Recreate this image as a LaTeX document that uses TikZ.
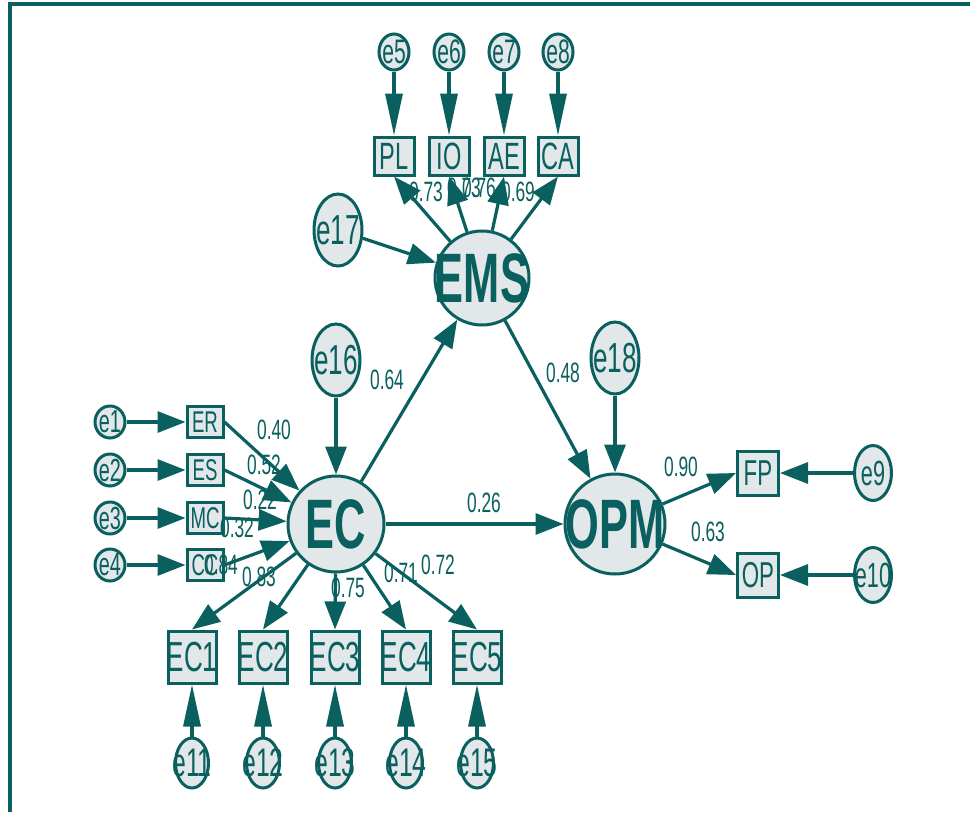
\documentclass[tikz,border=0pt]{standalone}
\usepackage{fontspec}
\setmainfont{Liberation Sans}[FakeStretch=0.62]
\usetikzlibrary{shapes,arrows.meta,positioning}
\definecolor{amos}{HTML}{0A5F5F}
\definecolor{amosfill}{HTML}{E2E7E9}

\begin{document}
\begin{tikzpicture}[x=1pt, y=-1pt,
  lv/.style={circle, draw=amos, line width=3pt, fill=amosfill, minimum size=#1, inner sep=0pt},
  lvtxt/.style={text=amos, inner sep=0pt, font=\fontsize{70}{70}\selectfont\bfseries},
  ov/.style={rectangle, draw=amos, line width=3pt, fill=amosfill, inner sep=0pt},
  ev/.style={ellipse, draw=amos, line width=3pt, fill=amosfill, inner sep=0pt},
  vtxt/.style={text=amos, inner sep=0pt},
  arr/.style={draw=amos, line width=3.2pt, -{Triangle[length=28pt, width=21pt]}},
  longarr/.style={draw=amos, line width=3.2pt, -{Triangle[length=42pt, width=17pt]}},
  coef/.style={text=amos, inner sep=0pt, font=\fontsize{28}{28}\selectfont}
]
  \useasboundingbox (0,0) rectangle (970,812);
  % frame
  \draw[amos, line width=4pt] (10,812) -- (10,4) -- (970,4);

  % latent variables
  \node[lv=94, label={[lvtxt]center:EMS}] (EMS) at (482,278) {};
  \node[lv=96, label={[lvtxt]center:EC}] (EC) at (336,524) {};
  \node[lv=100, label={[lvtxt]center:OPM}] (OPM) at (615,524) {};

  % EMS indicators
  \foreach \n/\x/\e in {PL/394/e5, IO/449/e6, AE/504/e7, CA/558/e8} {
    \node[ov, minimum width=40, minimum height=38, label={[vtxt, font=\fontsize{38}{38}\selectfont]center:\n}] (\n) at (\x,156) {};
    \node[ev, minimum width=30, minimum height=36, label={[vtxt, font=\fontsize{34}{34}\selectfont]center:\e}] (\e) at (\x,52) {};
    \draw[longarr] (\e) -- (\n);
  }

  % EC indicators (left)
  \foreach \n/\y/\e in {ER/422/e1, ES/470/e2, MC/518/e3, CC/565/e4} {
    \node[ov, minimum width=36, minimum height=31, label={[vtxt, font=\fontsize{30}{30}\selectfont]center:\n}] (\n) at (205,\y) {};
    \node[ev, minimum width=30, minimum height=32, label={[vtxt, font=\fontsize{32}{32}\selectfont]center:\e}] (\e) at (110,\y) {};
    \draw[arr] (\e) -- (\n);
    \draw[arr] (\n.east) -- (EC);
  }

  % EC indicators (bottom)
  \foreach \n/\x/\e in {EC1/192/e11, EC2/263/e12, EC3/335/e13, EC4/406/e14, EC5/477/e15} {
    \node[ov, minimum width=48, minimum height=52, label={[vtxt, font=\fontsize{42}{42}\selectfont]center:\n}] (\n) at (\x,657) {};
    \node[ev, minimum width=33, minimum height=50, label={[vtxt, font=\fontsize{40}{40}\selectfont]center:\e}] (\e) at (\x,763) {};
    \draw[arr] (EC) -- (\n.north);
    \draw[longarr] (\e) -- (\n);
  }

  % OPM indicators
  \foreach \n/\y/\e in {FP/473/e9, OP/575/e10} {
    \node[ov, minimum width=41, minimum height=44, label={[vtxt, font=\fontsize{36}{36}\selectfont]center:\n}] (\n) at (758,\y) {};
    \node[ev, minimum width=37, minimum height=55, label={[vtxt, font=\fontsize{35}{35}\selectfont]center:\e}] (\e) at (873,\y) {};
    \draw[arr] (\e) -- (\n);
    \draw[arr] (OPM) -- (\n.west);
  }

  % disturbances
  \node[ev, minimum width=48, minimum height=72, label={[vtxt, font=\fontsize{42}{42}\selectfont]center:e17}] (e17) at (338,230) {};
  \node[ev, minimum width=48, minimum height=72, label={[vtxt, font=\fontsize{42}{42}\selectfont]center:e16}] (e16) at (336,360) {};
  \node[ev, minimum width=48, minimum height=72, label={[vtxt, font=\fontsize{42}{42}\selectfont]center:e18}] (e18) at (615,358) {};

  \foreach \b in {PL, IO, AE, CA}
    \draw[arr] (EMS) -- (\b.south);
  \draw[arr] (e17) -- (EMS);
  \draw[arr] (e16) -- (EC);
  \draw[arr] (e18) -- (OPM);
  \draw[arr] (EC) -- (EMS);
  \draw[arr] (EMS) -- (OPM);
  \draw[arr] (EC) -- (OPM);

  % coefficients
  \node[coef] (cPL) at (426,192) {0.73};
  \node[coef] (cAE) at (479,188) {0.76};
  \node[coef] (cIO) at (464,188) {0.73};
  \node[coef] (cCA) at (518,192) {0.69};
  \node[coef] (cEMS) at (387,380) {0.64};
  \node[coef] (cOPM) at (563,373) {0.48};
  \node[coef] (cER) at (274,430) {0.40};
  \node[coef] (cES) at (264,465) {0.52};
  \node[coef] (cMC) at (260,500) {0.22};
  \node[coef] (cCC) at (237,528) {0.32};
  \node[coef] (cC4) at (221,565) {0.84};
  \node[coef] (cEC1) at (259,577) {0.83};
  \node[coef] (cEC3) at (348,588) {0.75};
  \node[coef] (cEC4) at (401,573) {0.71};
  \node[coef] (cEC5) at (438,565) {0.72};
  \node[coef] (cEO) at (484,503) {0.26};
  \node[coef] (cFP) at (681,467) {0.90};
  \node[coef] (cOP) at (708,532) {0.63};
\end{tikzpicture}
\end{document}
